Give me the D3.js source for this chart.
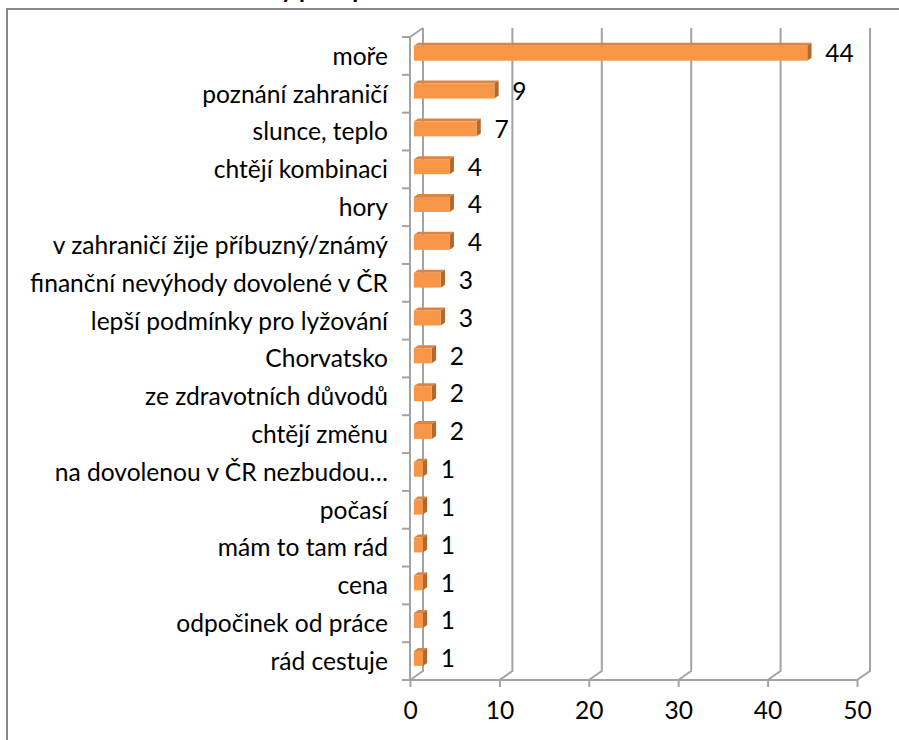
<!DOCTYPE html>
<html>
<head>
<meta charset="utf-8">
<script src="https://cdn.jsdelivr.net/npm/d3@7"></script>
<style>
  html, body { margin: 0; padding: 0; background: #fff; }
  svg { display: block; }
  text { font-family: Lato, "Open Sans", sans-serif; fill: #000; }
</style>
</head>
<body>
<svg id="chart" width="899" height="740"></svg>
<script>
// Reasons for spending holidays abroad (number of answers)
const categories = [
  "moře",
  "poznání zahraničí",
  "slunce, teplo",
  "chtějí kombinaci",
  "hory",
  "v zahraničí žije příbuzný/známý",
  "finanční nevýhody dovolené v ČR",
  "lepší podmínky pro lyžování",
  "Chorvatsko",
  "ze zdravotních důvodů",
  "chtějí změnu",
  "na dovolenou v ČR nezbudou…",
  "počasí",
  "mám to tam rád",
  "cena",
  "odpočinek od práce",
  "rád cestuje"
];
const values = [44, 9, 7, 4, 4, 4, 3, 3, 2, 2, 2, 1, 1, 1, 1, 1, 1];
const xTicks = [0, 10, 20, 30, 40, 50];
const titleText = "Důvody proč preferovat zahraničí";

const svg = d3.select("#chart");

// plot frame (front plane) and 3D depth offset of the back wall
const plotL = 410, plotR = 857, plotT = 37, plotB = 680;
const depthX = 13, depthY = -9;
const gridColor = "#a3a3a3";

const x = d3.scaleLinear().domain([0, 50]).range([plotL, plotR]);
const y = d3.scaleBand().domain(categories).range([plotT, plotB]).paddingInner(0).paddingOuter(0);

// fit the label font so the widest label spans like the original layout
const probe = svg.append("text").attr("font-size", 20).text("finanční nevýhody dovolené v ČR");
const probeW = probe.node().getComputedTextLength();
probe.remove();
const fontSize = 20 * 358 / probeW;

// outer chart border (frame continues past the visible area)
svg.append("rect")
  .attr("x", 7).attr("y", 9)
  .attr("width", 1000).attr("height", 1000)
  .attr("fill", "none").attr("stroke", "#8a8a8a").attr("stroke-width", 2);

// chart title, mostly above the visible area
const title = svg.append("text")
  .attr("font-weight", "bold")
  .attr("font-size", 24)
  .attr("y", -2)
  .text(titleText);
const preY = title.node().getSubStringLength(0, 5);
title.attr("x", 281 - preY);

const grid = svg.append("g").attr("stroke", gridColor).attr("stroke-width", 2).attr("fill", "none");

// back-wall vertical gridlines plus floor diagonals
xTicks.forEach(t => {
  const fx = x(t);
  grid.append("path")
    .attr("d", `M${fx},${plotB} L${fx + depthX},${plotB + depthY} L${fx + depthX},${plotT + depthY}`);
});

// side wall: diagonal at the top
grid.append("line")
  .attr("x1", plotL).attr("y1", plotT)
  .attr("x2", plotL + depthX).attr("y2", plotT + depthY);

// front category axis with ticks at band boundaries
const yAxisG = svg.append("g").attr("transform", `translate(${plotL},0)`);
yAxisG.append("line")
  .attr("x1", 0).attr("x2", 0).attr("y1", plotT).attr("y2", plotB)
  .attr("stroke", gridColor).attr("stroke-width", 2);
const bounds = categories.map(c => y(c)).concat([plotB]);
yAxisG.selectAll("line.b").data(bounds).join("line")
  .attr("class", "b")
  .attr("x1", -8).attr("x2", 0)
  .attr("y1", d => d).attr("y2", d => d)
  .attr("stroke", gridColor).attr("stroke-width", 2);

// category labels
svg.append("g").selectAll("text").data(categories).join("text")
  .attr("x", plotL - 22)
  .attr("y", d => y(d) + y.bandwidth() / 2)
  .attr("dy", "0.36em")
  .attr("text-anchor", "end")
  .attr("font-size", fontSize)
  .text(d => d);

// front value axis (floor edge)
const xAxis = d3.axisBottom(x).tickValues(xTicks).tickSize(7).tickPadding(15).tickSizeOuter(0);
const xAxisG = svg.append("g").attr("transform", `translate(0,${plotB})`).call(xAxis);
xAxisG.select(".domain").attr("stroke", gridColor).attr("stroke-width", 2).attr("d", `M${plotL - 3},0H${plotR}`);
xAxisG.selectAll(".tick line").attr("stroke", gridColor).attr("stroke-width", 2);
xAxisG.selectAll(".tick text")
  .attr("font-size", fontSize)
  .attr("font-family", "Lato, 'Open Sans', sans-serif")
  .attr("fill", "#000");

// 3D bars: front face sits ~30% into the depth, bar depth ~33%
const f0 = 0.3, f1 = 0.63;
const barH = 15;
const bars = svg.append("g");
categories.forEach((c, i) => {
  const v = values[i];
  const cy = y(c) + y.bandwidth() / 2 + depthY * f0;
  const x0 = x(0) + depthX * f0;
  const x1 = x(v) + depthX * f0;
  const y0 = cy - barH / 2, y1 = cy + barH / 2;
  const bx = depthX * (f1 - f0), by = depthY * (f1 - f0);
  // top face
  bars.append("path")
    .attr("d", `M${x0},${y0} L${x0 + bx},${y0 + by} L${x1 + bx},${y0 + by} L${x1},${y0} Z`)
    .attr("fill", "#dc8442");
  // side face
  bars.append("path")
    .attr("d", `M${x1},${y0} L${x1 + bx},${y0 + by} L${x1 + bx},${y1 + by} L${x1},${y1} Z`)
    .attr("fill", "#b3682d");
  // front face
  bars.append("rect")
    .attr("x", x0).attr("y", y0)
    .attr("width", x1 - x0).attr("height", barH)
    .attr("fill", "#f79646");
  // value label
  bars.append("text")
    .attr("x", x1 + 18)
    .attr("y", cy)
    .attr("dy", "0.36em")
    .attr("font-size", fontSize)
    .text(v);
});
</script>
</body>
</html>
